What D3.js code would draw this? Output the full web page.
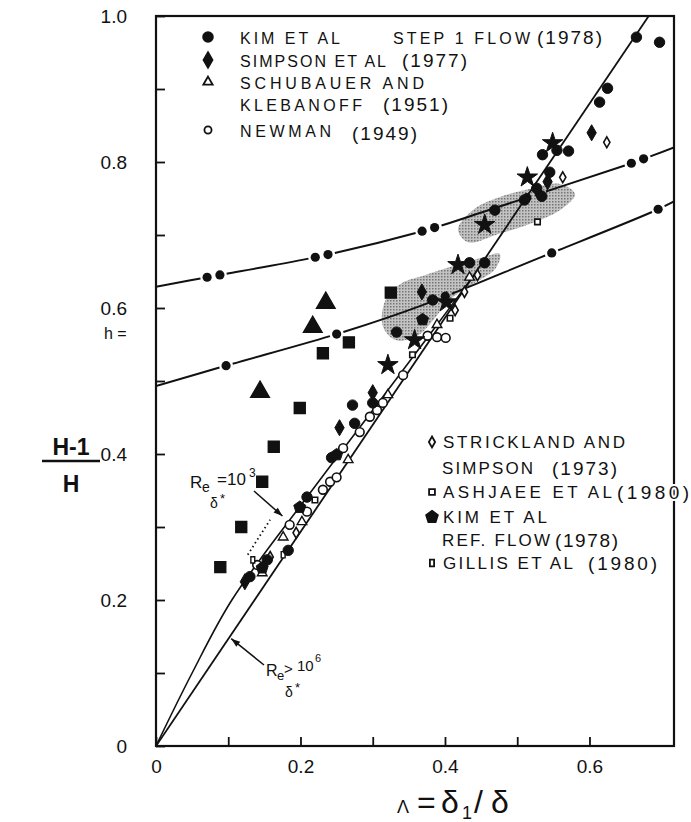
<!DOCTYPE html>
<html><head><meta charset="utf-8">
<script src="https://cdn.jsdelivr.net/npm/d3@7"></script>
<style>
body{margin:0;background:#fff;}
svg{display:block;}
text{font-family:"Liberation Sans",Arial,sans-serif;fill:#111;}
</style></head><body>
<svg id="chart" width="691" height="822"></svg>
<script>
// ---- axis ticks ----
const xTicks = [0, 0.1, 0.2, 0.3, 0.4, 0.5, 0.6];
const xTickLabels = ["0", "", "0.2", "", "0.4", "", "0.6"];
const yTicks = [0, 0.1, 0.2, 0.3, 0.4, 0.5, 0.6, 0.7, 0.8, 0.9, 1.0];
const yTickLabels = ["0", "", "0.2", "", "0.4", "", "0.6", "", "0.8", "", "1.0"];

// ---- data series: [Lambda, h] ----
const kimStep = [[0.665,0.971],[0.697,0.964],[0.625,0.901],[0.614,0.882],[0.535,0.810],[0.555,0.816],[0.571,0.815],
  [0.545,0.786],[0.527,0.764],[0.534,0.753],[0.510,0.748],[0.469,0.734],[0.434,0.662],[0.455,0.662],[0.383,0.611],
  [0.333,0.567],[0.272,0.467],[0.275,0.442],[0.300,0.470],[0.209,0.341],[0.243,0.395],[0.183,0.268],[0.154,0.255],[0.130,0.232]];
const kimRef = [[0.369,0.584],[0.250,0.399],[0.199,0.327],[0.147,0.244]];
const simpson = [[0.603,0.840],[0.542,0.773],[0.368,0.622],[0.300,0.484],[0.254,0.436],[0.123,0.225]];
const schubauer = [[0.235,0.607],[0.217,0.574],[0.144,0.485]];
const schubauerOpen = [[0.434,0.642],[0.389,0.577],[0.321,0.481],[0.266,0.392],[0.202,0.307],[0.176,0.286],[0.147,0.237]];
const newman = [[0.376,0.562],[0.389,0.560],[0.401,0.559],[0.342,0.508],[0.314,0.470],[0.306,0.460],[0.296,0.451],
  [0.282,0.430],[0.259,0.408],[0.231,0.351],[0.241,0.362],[0.250,0.368],[0.209,0.321],[0.185,0.303],[0.140,0.248]];
const strickland = [[0.624,0.827],[0.563,0.779],[0.445,0.645],[0.427,0.622],[0.414,0.597],[0.194,0.292],[0.158,0.259]];
const ashjaee = [[0.528,0.718],[0.407,0.586],[0.355,0.536],[0.220,0.337]];
const gillis = [[0.176,0.262],[0.134,0.255]];
const starPts = [[0.549,0.826],[0.514,0.779],[0.455,0.714],[0.418,0.659],[0.402,0.608],[0.358,0.556],[0.321,0.522]];
const squarePts = [[0.325,0.621],[0.267,0.553],[0.231,0.538],[0.199,0.463],[0.163,0.410],[0.147,0.362],[0.118,0.300],[0.089,0.245]];

// ---- reference lines and correlation curves ----
const highReLine = [[0, 0], [0.682, 1.0]];
const lowReCurve = [[0, 0], [0.05, 0.1], [0.105, 0.2], [0.209, 0.341], [0.3, 0.46], [0.38, 0.565], [0.44, 0.645]];
const lowReDotted = [[0.127, 0.262], [0.158, 0.31]];
const upperCurve = [[0,0.629],[0.07,0.642],[0.237,0.673],[0.378,0.708],[0.466,0.736],[0.66,0.799],[0.717,0.82]];
const lowerCurve = [[0,0.493],[0.097,0.521],[0.259,0.567],[0.369,0.604],[0.534,0.670],[0.69,0.733],[0.717,0.746]];

// ---- shaded detachment regions ----
const upperBand = [[0.418,0.708],[0.441,0.736],[0.476,0.752],[0.517,0.763],[0.559,0.770],[0.580,0.756],
  [0.559,0.734],[0.517,0.715],[0.476,0.702],[0.432,0.690]];
const lowerBand = [[0.314,0.575],[0.318,0.612],[0.340,0.634],[0.372,0.645],[0.407,0.656],[0.448,0.668],[0.476,0.674],
  [0.470,0.654],[0.434,0.630],[0.405,0.610],[0.385,0.585],[0.362,0.562],[0.332,0.556]];

const svg = d3.select("#chart");
const x = d3.scaleLinear().domain([0, 0.717]).range([156, 674]);
const y = d3.scaleLinear().domain([0, 1]).range([746, 16]);

// stipple pattern for the shaded regions
const defs = svg.append("defs");
const pat = defs.append("pattern").attr("id","stip").attr("width",3).attr("height",3).attr("patternUnits","userSpaceOnUse");
pat.append("rect").attr("width",3).attr("height",3).attr("fill","#b8b8b8");
pat.append("rect").attr("width",1.5).attr("height",1.5).attr("fill","#5e5e5e");

const poly = d3.line().x(d => x(d[0])).y(d => y(d[1])).curve(d3.curveCatmullRomClosed);
[upperBand, lowerBand].forEach(b => svg.append("path").attr("d", poly(b)).attr("fill","url(#stip)").attr("opacity",0.85));

// frame
svg.append("rect").attr("x", x(0)).attr("y", y(1)).attr("width", x(0.717) - x(0)).attr("height", y(0) - y(1))
  .attr("fill","none").attr("stroke","#111").attr("stroke-width",2.2);

// axes with inward ticks
const xAxis = d3.axisBottom(x).tickValues(xTicks).tickSizeInner(-9).tickSizeOuter(0).tickPadding(14)
  .tickFormat((d,i) => xTickLabels[i]);
const gx = svg.append("g").attr("transform",`translate(0,${y(0)})`).call(xAxis);
gx.select(".domain").remove();
gx.selectAll("line").attr("stroke","#111").attr("stroke-width",1.8);
gx.selectAll("text").attr("font-size",19).attr("fill","#111");

const yAxis = d3.axisLeft(y).tickValues(yTicks).tickSizeInner(-9).tickSizeOuter(0).tickPadding(29)
  .tickFormat((d,i) => yTickLabels[i]);
const gy = svg.append("g").attr("transform",`translate(${x(0)},0)`).call(yAxis);
gy.select(".domain").remove();
gy.selectAll("line").attr("stroke","#111").attr("stroke-width",1.8);
gy.selectAll("text").attr("font-size",19).attr("fill","#111");

// lines
const ln = d3.line().x(d => x(d[0])).y(d => y(d[1]));
const lnc = d3.line().x(d => x(d[0])).y(d => y(d[1])).curve(d3.curveCatmullRom);
defs.append("clipPath").attr("id","plotclip").append("rect").attr("x",x(0)).attr("y",y(1)).attr("width",x(0.717)-x(0)).attr("height",y(0)-y(1));
const plot = svg.append("g").attr("clip-path","url(#plotclip)");
plot.append("path").attr("d", ln(highReLine)).attr("fill","none").attr("stroke","#111").attr("stroke-width",1.8);
plot.append("path").attr("d", lnc(lowReCurve)).attr("fill","none").attr("stroke","#111").attr("stroke-width",1.6);
plot.append("path").attr("d", ln(lowReDotted)).attr("fill","none").attr("stroke","#111").attr("stroke-width",1.8).attr("stroke-dasharray","1.5 3");

// dash-dot correlation curves, dots spaced along the path
function dashDot(pts, period, first, nDots, spacing) {
  const p = plot.append("path").attr("d", lnc(pts)).attr("fill","none").attr("stroke","#111").attr("stroke-width",2);
  const node = p.node(), L = node.getTotalLength();
  const gap = (nDots - 1) * spacing + 14;
  p.attr("stroke-dasharray", `${period - gap} ${gap}`).attr("stroke-dashoffset", period - gap - first + 7);
  for (let s = first; s < L; s += period) {
    for (let k = 0; k < nDots; k++) {
      const q = node.getPointAtLength(Math.min(L, s + k * spacing));
      plot.append("circle").attr("cx", q.x).attr("cy", q.y).attr("r", 4.6).attr("fill","#111");
    }
  }
}
dashDot(upperCurve, 110, 52, 2, 13);
dashDot(lowerCurve, 115, 73, 1, 0);

// marker helpers
const pentagon = { draw(ctx, size) { const r = Math.sqrt(size / 2.378); for (let i = 0; i < 5; i++) { const a = -Math.PI/2 + i * 2*Math.PI/5; const px = r*Math.cos(a), py = r*Math.sin(a); i ? ctx.lineTo(px,py) : ctx.moveTo(px,py);} ctx.closePath(); } };
const tallRect = { draw(ctx, size) { const w = Math.sqrt(size/1.6), h = w*1.6; ctx.rect(-w/2,-h/2,w,h); } };
function pts(data, type, size, filled, sw) {
  plot.append("g").selectAll("path").data(data).join("path")
    .attr("transform", d => `translate(${x(d[0])},${y(d[1])})`)
    .attr("d", d3.symbol().type(type).size(size))
    .attr("fill", filled ? "#111" : "#fff").attr("stroke","#111").attr("stroke-width", sw || 1.4);
}
pts(squarePts, d3.symbolSquare, 120, true);
pts(schubauer, d3.symbolTriangle, 150, true);
pts(newman, d3.symbolCircle, 60, false, 1.6);
pts(schubauerOpen, d3.symbolTriangle, 40, false, 1.4);
pts(strickland, d3.symbolDiamond, 34, false, 1.6);
pts(ashjaee, d3.symbolSquare, 30, false, 1.6);
pts(gillis, tallRect, 24, false, 1.4);
pts(kimStep, d3.symbolCircle, 85, true, 1);
pts(kimRef, pentagon, 95, true, 1);
pts(simpson, d3.symbolDiamond, 75, true, 1);
pts(starPts, d3.symbolStar, 130, true, 1);

// annotations
function arrow(x1,y1,x2,y2) {
  svg.append("line").attr("x1",x1).attr("y1",y1).attr("x2",x2).attr("y2",y2).attr("stroke","#111").attr("stroke-width",1.5);
  const a = Math.atan2(y2-y1, x2-x1), l = 9, w = 3.2;
  const p = [[x2,y2],[x2 - l*Math.cos(a) + w*Math.sin(a), y2 - l*Math.sin(a) - w*Math.cos(a)],[x2 - l*Math.cos(a) - w*Math.sin(a), y2 - l*Math.sin(a) + w*Math.cos(a)]];
  svg.append("path").attr("d", d3.line()(p) + "Z").attr("fill","#111");
}
const reLow = svg.append("g");
reLow.append("text").attr("x",190).attr("y",488).attr("font-size",17).text("R");
reLow.append("text").attr("x",202).attr("y",492).attr("font-size",14).text("e");
reLow.append("text").attr("x",210).attr("y",508).attr("font-size",14).text("δ");
reLow.append("text").attr("x",220).attr("y",503).attr("font-size",13).text("*");
reLow.append("text").attr("x",217).attr("y",485).attr("font-size",17).text("=10");
reLow.append("text").attr("x",249).attr("y",477).attr("font-size",12).text("3");
arrow(254, 491, x(0.175), y(0.315));

const reHigh = svg.append("g");
reHigh.append("text").attr("x",266).attr("y",676).attr("font-size",16).text("R");
reHigh.append("text").attr("x",277).attr("y",680).attr("font-size",13).text("e");
reHigh.append("text").attr("x",285).attr("y",697).attr("font-size",14).text("δ");
reHigh.append("text").attr("x",295).attr("y",692).attr("font-size",13).text("*");
reHigh.append("text").attr("x",284).attr("y",674).attr("font-size",15).text(">");
reHigh.append("text").attr("x",297).attr("y",671).attr("font-size",15).text("10");
reHigh.append("text").attr("x",315).attr("y",662).attr("font-size",11).text("6");
arrow(264, 665, x(0.1)+3, y(0.147));

// legends
const legTop = [
  {sym: "circle", name: "KIM ET AL", extra: "STEP 1 FLOW", year: "(1978)", y: 38},
  {sym: "diamond", name: "SIMPSON ET AL", year: "(1977)", y: 61},
  {sym: "triangle", name: "SCHUBAUER  AND", y: 83},
  {sym: null, name: "KLEBANOFF", year: "(1951)", y: 105},
  {sym: "ocircle", name: "NEWMAN", year: "(1949)", y: 131}
];
const nameW = {"KIM ET AL":100, "SIMPSON ET AL":146, "SCHUBAUER  AND":184, "KLEBANOFF":122, "NEWMAN":91,
  "STEP 1 FLOW":137};
function legSym(g, kind, cx, cy) {
  const m = {circle:[d3.symbolCircle,75,true], diamond:[d3.symbolDiamond,70,true], triangle:[d3.symbolTriangle,38,false],
    ocircle:[d3.symbolCircle,40,false], odiamond:[d3.symbolDiamond,34,false], osquare:[d3.symbolSquare,34,false],
    pent:[pentagon,90,true], orect:[tallRect,28,false]}[kind];
  g.append("path").attr("transform",`translate(${cx},${cy})`).attr("d", d3.symbol().type(m[0]).size(m[1]))
    .attr("fill", m[2] ? "#111" : "#fff").attr("stroke","#111").attr("stroke-width",1.8);
}
const lt = svg.append("g");
legTop.forEach(r => {
  if (r.sym) legSym(lt, r.sym, 208, r.y - 1);
  lt.append("text").attr("x",240).attr("y",r.y+6).attr("font-size",16).attr("textLength",nameW[r.name]).attr("lengthAdjust","spacing").text(r.name);
  if (r.extra) lt.append("text").attr("x",393).attr("y",r.y+6).attr("font-size",16).attr("textLength",nameW[r.extra]).attr("lengthAdjust","spacing").text(r.extra);
});
const yearPos = {"(1978)":[537,44], "(1977)":[402,67], "(1951)":[383,111], "(1949)":[352,140]};
legTop.filter(r => r.year).forEach(r => {
  lt.append("text").attr("x",yearPos[r.year][0]).attr("y",yearPos[r.year][1]).attr("font-size",19).attr("fill","#333")
    .attr("textLength",65).attr("lengthAdjust","spacing").text(r.year);
});

const lb = svg.append("g");
const legBot = [
  {sym:"odiamond", parts:[["STRICKLAND  AND",443,182]], y:442},
  {sym:null, parts:[["SIMPSON",442,91],["(1973)",552,65]], y:468},
  {sym:"osquare", parts:[["ASHJAEE  ET AL",443,169],["(1980)",617,72]], y:492},
  {sym:"pent", parts:[["KIM ET AL",443,104]], y:517},
  {sym:null, parts:[["REF.  FLOW",442,108],["(1978)",555,63]], y:540},
  {sym:"orect", parts:[["GILLIS ET AL",443,130],["(1980)",588,69]], y:563}
];
legBot.forEach(r => {
  if (r.sym) legSym(lb, r.sym, 432, r.y);
  r.parts.forEach(p => {
    const isYear = p[0].startsWith("(");
    const t = lb.append("text").attr("x",p[1]).attr("y", r.y + (isYear ? 7 : 6)).attr("textLength",p[2]).attr("lengthAdjust","spacing").text(p[0]);
    if (isYear) {
      t.attr("font-size",19).attr("fill","#333").attr("stroke","#fff").attr("stroke-width",4).attr("paint-order","stroke");
    } else {
      t.attr("font-size",17);
    }
  });
});

// axis titles
const yl = svg.append("g");
yl.append("text").attr("x",104).attr("y",339).attr("font-size",16).text("h =");
yl.append("text").attr("x",71).attr("y",455).attr("text-anchor","middle").attr("font-size",23).attr("font-weight","bold").text("H-1");
yl.append("line").attr("x1",42).attr("x2",100).attr("y1",461).attr("y2",461).attr("stroke","#111").attr("stroke-width",2.5);
yl.append("text").attr("x",71).attr("y",492).attr("text-anchor","middle").attr("font-size",23).attr("font-weight","bold").text("H");

const xl = svg.append("text").attr("y",813);
xl.append("tspan").attr("x",397).attr("font-size",18).text("Λ");
xl.append("tspan").attr("x",417).attr("font-size",32).text("=");
xl.append("tspan").attr("x",441).attr("font-size",32).text("δ");
xl.append("tspan").attr("x",462).attr("dy",6).attr("font-size",18).text("1");
xl.append("tspan").attr("x",474).attr("dy",-6).attr("font-size",32).text("/");
xl.append("tspan").attr("x",491).attr("font-size",32).text("δ");
</script>
</body></html>
